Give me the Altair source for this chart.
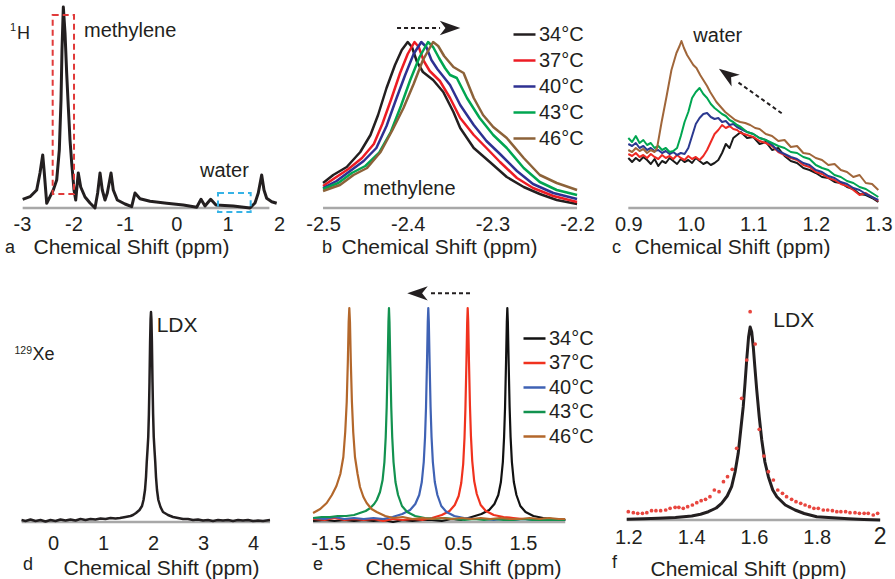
import altair as alt
import pandas as pd

# ---------------------------------------------------------------- data
TEMPS = ["34°C", "37°C", "40°C", "43°C", "46°C"]

# (a) 1H spectrum
A_X = [-2.987, -2.844, -2.714, -2.650, -2.597, -2.566, -2.519, -2.455, -2.391, -2.325, -2.274, -2.241,
       -2.222, -2.196, -2.163, -2.131, -2.099, -2.066, -2.033, -1.988, -1.955, -1.905, -1.858, -1.774,
       -1.677, -1.580, -1.528, -1.482, -1.438, -1.385, -1.340, -1.268, -1.224, -1.146, -0.996, -0.866,
       -0.802, -0.704, -0.510, -0.185, 0.138, 0.399, 0.483, 0.560, 0.671, 0.774, 1.111, 1.436, 1.533,
       1.597, 1.663, 1.708, 1.760, 1.858, 1.955]
A_Y = [8.7, 11.3, 18, 35, 53, 35, 4.7, 11.3, 18, 28, 58, 108, 158, 201, 175, 135, 101, 68, 45, 18, 8,
       35, 21, 11, 5, 0, 15, 35, 18, 8, 15, 35, 18, 8, 4, 1.3, 15, 9.3, 6.7, 4.7, 3, 0.7, 8.7, 2, 8.7,
       3, 2, 0, 5, 15, 33, 18, 9.7, 6.3, 4.7]

# (b) methylene peak vs temperature
B34_X = [-2.500, -2.488, -2.472, -2.456, -2.444, -2.435, -2.425, -2.415, -2.407, -2.400, -2.395, -2.389,
         -2.382, -2.370, -2.358, -2.346, -2.338, -2.322, -2.303, -2.283, -2.263, -2.244, -2.224, -2.200]
B34_Y = [25, 33, 41, 56, 73, 93, 120, 143, 158, 166, 161, 146, 136, 128, 116, 96, 80, 60, 46, 31, 21, 14, 8, 4]
B37_X = [-2.500, -2.486, -2.470, -2.454, -2.440, -2.430, -2.419, -2.409, -2.400, -2.392, -2.387, -2.381,
         -2.374, -2.362, -2.350, -2.338, -2.322, -2.307, -2.291, -2.271, -2.252, -2.228, -2.200]
B37_Y = [22, 30, 39, 50, 64, 84, 110, 135, 154, 166, 161, 147, 137, 127, 110, 90, 73, 60, 46, 30, 20, 12, 6]
B40_X = [-2.500, -2.484, -2.468, -2.452, -2.437, -2.425, -2.414, -2.403, -2.393, -2.384, -2.378, -2.372,
         -2.365, -2.350, -2.338, -2.322, -2.307, -2.291, -2.271, -2.252, -2.228, -2.200]
B40_Y = [20, 27, 37, 47, 60, 82, 108, 133, 154, 166, 161, 148, 139, 123, 103, 83, 67, 54, 37, 24, 15, 9]
B43_X = [-2.500, -2.482, -2.466, -2.450, -2.434, -2.420, -2.408, -2.397, -2.386, -2.376, -2.370, -2.363,
         -2.356, -2.350, -2.342, -2.330, -2.315, -2.299, -2.283, -2.263, -2.244, -2.224, -2.200]
B43_Y = [19, 25, 35, 42, 55, 76, 102, 128, 151, 166, 161, 150, 140, 133, 130, 110, 90, 73, 60, 40, 26, 18, 13]
B46_X = [-2.500, -2.480, -2.464, -2.448, -2.432, -2.418, -2.405, -2.393, -2.382, -2.370, -2.364, -2.357,
         -2.346, -2.334, -2.322, -2.311, -2.299, -2.283, -2.263, -2.244, -2.224, -2.200]
B46_Y = [17, 23, 33, 40, 56, 78, 100, 124, 148, 166, 162, 152, 141, 135, 110, 93, 81, 70, 50, 33, 25, 18]

# (c) water peak vs temperature
C_X = [0.900, 0.906, 0.912, 0.918, 0.924, 0.930, 0.936, 0.942, 0.948, 0.954, 0.960, 0.966, 0.972, 0.978,
       0.984, 0.990, 0.996, 1.002, 1.008, 1.014, 1.020, 1.026, 1.032, 1.038, 1.044, 1.050, 1.056, 1.062,
       1.068, 1.074, 1.080, 1.090, 1.100, 1.110, 1.120, 1.130, 1.140, 1.150, 1.160, 1.170, 1.180, 1.190,
       1.200, 1.210, 1.220, 1.230, 1.240, 1.250, 1.260, 1.270, 1.280, 1.290, 1.300]
C34_Y = [50, 46, 50, 47, 51, 48, 44, 49, 42, 47, 45, 50, 47, 44, 49, 46, 48, 45, 50, 47, 44, 46, 43, 45,
         48, 55, 64, 60, 70, 73, 76, 70, 71, 64, 66, 58, 60, 52, 47, 45, 40, 38, 35, 31, 30, 26, 25, 21,
         19, 14, 13, 10, 6]
C37_Y = [54, 52, 55, 51, 53, 50, 54, 51, 49, 53, 50, 52, 49, 53, 50, 48, 52, 49, 51, 48, 52, 58, 66, 74,
         78, 83, 80, 82, 79, 78, 75, 73, 71, 67, 65, 62, 56, 53, 50, 48, 43, 41, 36, 34, 30, 28, 24, 22,
         18, 13, 15, 11, 7]
C40_Y = [64, 62, 65, 60, 62, 58, 60, 57, 58, 55, 57, 54, 56, 53, 55, 54, 60, 72, 84, 90, 94, 95, 91, 89,
         90, 86, 87, 83, 84, 81, 79, 76, 74, 70, 68, 63, 57, 54, 51, 49, 45, 43, 38, 36, 32, 30, 26, 24,
         20, 18, 14, 11, 8]
C43_Y = [70, 66, 72, 65, 68, 63, 65, 60, 62, 58, 60, 56, 57, 60, 72, 86, 96, 110, 116, 120, 114, 110, 104,
         100, 97, 94, 92, 88, 86, 83, 81, 76, 74, 70, 68, 65, 62, 60, 56, 55, 51, 49, 43, 40, 38, 33, 31,
         27, 25, 21, 19, 15, 11]
C46_X = [0.900, 0.906, 0.912, 0.918, 0.924, 0.930, 0.936, 0.942, 0.946, 0.953, 0.961, 0.969, 0.977, 0.982,
         0.985, 0.989, 0.994, 0.999, 1.004, 1.009, 1.015, 1.020, 1.026, 1.031, 1.036, 1.041, 1.048, 1.055,
         1.063, 1.071, 1.079, 1.087, 1.095, 1.103, 1.110, 1.120, 1.130, 1.140, 1.150, 1.160, 1.170, 1.180,
         1.190, 1.200, 1.210, 1.220, 1.230, 1.240, 1.250, 1.260, 1.270, 1.280, 1.290, 1.300]
C46_Y = [58, 56, 60, 57, 59, 55, 58, 56, 60, 85, 111, 138, 155, 162, 167, 160, 153, 148, 143, 140, 133,
         128, 122, 116, 111, 106, 101, 96, 92, 88, 86, 85, 83, 80, 79, 74, 72, 67, 68, 61, 62, 55, 54, 50,
         48, 43, 44, 38, 36, 31, 33, 25, 24, 18]

# (d) 129Xe LDX spectrum
D_X = [-0.63, -0.55, -0.45, -0.35, -0.25, -0.15, -0.05, 0.05, 0.15, 0.25, 0.35, 0.45, 0.55, 0.65, 0.75,
       0.85, 0.95, 1.05, 1.15, 1.25, 1.34, 1.45, 1.55, 1.60, 1.66, 1.73, 1.78, 1.81, 1.84, 1.86, 1.875,
       1.89, 1.905, 1.918, 1.93, 1.942, 1.952, 1.96, 1.968, 1.978, 1.99, 2.002, 2.015, 2.03, 2.045, 2.06,
       2.08, 2.107, 2.15, 2.20, 2.30, 2.40, 2.50, 2.60, 2.70, 2.80, 2.90, 3.00, 3.10, 3.20, 3.30, 3.40,
       3.50, 3.60, 3.70, 3.80, 3.90, 4.00, 4.10, 4.20, 4.34]
D_Y = [2, 1, 2.5, 1, 2, 0.5, 2, 1, 2.5, 1.5, 2.5, 1.5, 3, 2, 3, 2.5, 3.5, 3, 4, 3.5, 4, 5, 6, 7, 9, 12,
       16, 22, 32, 45, 60, 72, 85, 108, 140, 180, 203, 210, 203, 180, 140, 108, 85, 72, 60, 45, 32, 22,
       15, 10, 7, 5, 4, 3, 3, 2, 2.5, 1.5, 2, 1, 2, 1.5, 2, 1, 2, 1.5, 2, 1, 1.5, 1, 2]

# (e) LDX peak vs temperature
E34_X = [-1.73, -1.55, -1.40, -1.25, -1.10, -0.95, -0.80, -0.65, -0.50, -0.35, -0.20, -0.05, 0.10, 0.25,
         0.40, 0.55, 0.71, 0.86, 0.98, 1.06, 1.12, 1.16, 1.19, 1.209, 1.224, 1.239, 1.251, 1.259, 1.267,
         1.279, 1.294, 1.309, 1.329, 1.359, 1.399, 1.459, 1.539, 1.66, 1.81, 1.95, 2.05, 2.15]
E34_Y = [1, 2, 1, 2, 1, 2, 1, 2, 0, 2, 1, 2, 2, 1, 3, 2, 5, 8, 12, 18, 27, 40, 60, 85, 115, 160, 200,
         214, 200, 160, 115, 85, 60, 40, 27, 16, 10, 6, 4, 3, 3, 2]
E37_X = [-1.73, -1.55, -1.40, -1.25, -1.10, -0.95, -0.80, -0.65, -0.50, -0.35, -0.20, -0.05, 0.10, 0.25,
         0.37, 0.45, 0.51, 0.55, 0.58, 0.60, 0.614, 0.629, 0.641, 0.649, 0.657, 0.669, 0.684, 0.699,
         0.719, 0.749, 0.789, 0.849, 0.929, 1.05, 1.20, 1.35, 1.50, 1.65, 1.80, 1.95, 2.05, 2.15]
E37_Y = [3, 2, 4, 2, 3, 2, 3, 1, 3, 2, 3, 2, 4, 7, 11, 17, 26, 39, 58, 84, 113, 158, 199, 214, 201, 160,
         116, 86, 61, 41, 28, 17, 11, 7, 5, 4, 3, 3, 2, 3, 2, 2]
E40_X = [-1.73, -1.55, -1.40, -1.25, -1.10, -0.95, -0.80, -0.65, -0.507, -0.357, -0.237, -0.157, -0.097,
         -0.057, -0.027, -0.007, 0.008, 0.023, 0.035, 0.043, 0.051, 0.063, 0.078, 0.093, 0.113, 0.143,
         0.183, 0.243, 0.323, 0.443, 0.593, 0.75, 0.90, 1.05, 1.20, 1.35, 1.50, 1.65, 1.80, 1.95, 2.05, 2.15]
E40_Y = [4, 3, 5, 3, 4, 3, 4, 3, 5, 8, 12, 18, 27, 40, 60, 85, 115, 160, 200, 214, 200, 160, 115, 85, 60,
         40, 27, 16, 10, 6, 4, 3, 3, 2, 3, 2, 3, 2, 2, 3, 2, 2]
E43_X = [-1.73, -1.60, -1.47, -1.35, -1.22, -1.10, -1.01, -0.92, -0.85, -0.79, -0.75, -0.70, -0.66, -0.632,
         -0.612, -0.597, -0.582, -0.570, -0.562, -0.554, -0.542, -0.527, -0.512, -0.492, -0.462, -0.422,
         -0.362, -0.282, -0.16, -0.01, 0.15, 0.30, 0.45, 0.60, 0.75, 0.90, 1.05, 1.20, 1.35, 1.50, 1.65,
         1.80, 1.95, 2.15]
E43_Y = [4, 5, 5, 6, 6, 7, 9, 11, 14, 18, 22, 30, 42, 60, 85, 115, 160, 200, 214, 200, 160, 115, 85, 60,
         40, 27, 16, 10, 6, 4, 3, 4, 3, 2, 3, 2, 3, 2, 2, 3, 2, 2, 2, 2]
E46_X = [-1.73, -1.62, -1.52, -1.44, -1.37, -1.31, -1.264, -1.235, -1.212, -1.195, -1.182, -1.172, -1.162,
         -1.149, -1.132, -1.112, -1.085, -1.045, -1.008, -0.955, -0.905, -0.83, -0.751, -0.62, -0.495,
         -0.35, -0.20, -0.05, 0.10, 0.25, 0.40, 0.55, 0.70, 0.85, 1.00, 1.15, 1.30, 1.45, 1.60, 1.75,
         1.90, 2.05, 2.15]
E46_Y = [9, 13, 19, 27, 36, 48, 65, 90, 120, 160, 200, 214, 200, 160, 120, 90, 65, 48, 35, 25, 19, 13,
         10, 6, 4, 5, 3, 4, 3, 4, 3, 4, 3, 4, 3, 4, 3, 3, 4, 3, 4, 3, 3]

# (f) LDX peak: fit (line) and measured (dots)
F_FIT_X = [1.195, 1.25, 1.296, 1.35, 1.402, 1.43, 1.455, 1.48, 1.497, 1.515, 1.529, 1.540, 1.550, 1.558,
           1.566, 1.572, 1.577, 1.583, 1.588, 1.593, 1.598, 1.603, 1.609, 1.617, 1.625, 1.635, 1.646,
           1.660, 1.673, 1.700, 1.731, 1.760, 1.800, 1.850, 1.901, 1.950, 2.002]
F_FIT_Y = [2.7, 3.2, 3.7, 4.6, 6, 7.8, 10.3, 14, 18.7, 26, 35.3, 50, 68.7, 92, 115.3, 140, 162, 185, 195,
           190, 175, 155, 132, 105, 82, 60, 45.3, 32, 25.3, 17, 12, 8.5, 5.3, 4.2, 3.3, 2.6, 2]
F_DOT_X = [1.200, 1.216, 1.230, 1.245, 1.259, 1.274, 1.288, 1.303, 1.319, 1.333, 1.349, 1.361, 1.375,
           1.389, 1.404, 1.418, 1.432, 1.446, 1.460, 1.474, 1.489, 1.503, 1.516, 1.531, 1.545, 1.561,
           1.577, 1.588, 1.604, 1.617, 1.632, 1.646, 1.662, 1.676, 1.691, 1.704, 1.720, 1.734, 1.749,
           1.763, 1.777, 1.791, 1.805, 1.821, 1.835, 1.850, 1.864, 1.877, 1.892, 1.906, 1.922, 1.936,
           1.951, 1.964, 1.980, 1.994]
F_DOT_Y = [10.3, 9.3, 8.7, 8.7, 9.3, 11.3, 11.3, 11.3, 12, 13.7, 14.7, 14.7, 13.7, 15.3, 17, 19.3, 21.3,
           22.7, 25.3, 32, 30.3, 40.3, 45.3, 52.7, 73.7, 123.7, 162, 210.3, 178, 92.7, 66, 50.3, 42, 32,
           28.7, 25.3, 22.7, 20.3, 18.7, 17, 15.3, 13.7, 13.7, 12, 12, 11.3, 10.3, 10.3, 10.3, 9.3, 9.3,
           8.7, 8.7, 8.7, 7, 8.7]

# ---------------------------------------------------------------- style
FONT = "Liberation Sans"
INK = "#231f20"
GRAY = "#a8a8a8"
ARROW = "M1,0L-1,-0.7L-0.45,0L-1,0.7Z"
B_COLORS = ["#231f20", "#ed1c24", "#2e3192", "#00a651", "#8c6239"]
C_COLORS = ["#1a1a1a", "#ee2a24", "#2b3990", "#00a651", "#a0663a"]
E_COLORS = ["#111111", "#f0321e", "#3f62b4", "#12924f", "#b3672b"]
W = [290, 300, 285]
H1, H2 = 208, 232


class Panel:
    def __init__(self, xdom, ydom, axis):
        self.xdom, self.ydom, self.axis = xdom, ydom, axis

    def X(self):
        return alt.X("x:Q", scale=alt.Scale(domain=self.xdom, nice=False, zero=False), axis=self.axis)

    def Y(self):
        return alt.Y("y:Q", scale=alt.Scale(domain=self.ydom, nice=False, zero=False), axis=None)


def xaxis(values, tx, ty, pad, expr="'' + datum.value", fsize=20):
    return alt.Axis(values=values, labelExpr=expr, title="Chemical Shift (ppm)",
                    titleX=tx, titleY=ty, titleAlign="left", titleBaseline="alphabetic",
                    titleFont=FONT, titleFontSize=21, titleFontWeight="normal", titleColor=INK,
                    labelFont=FONT, labelFontSize=fsize, labelColor=INK, labelBaseline="alphabetic",
                    labelPadding=pad, labelFlush=False, labelOverlap=False, labelAlign="center",
                    ticks=False, tickSize=0, domain=False, grid=False)


def line(P, xs, ys, width=2.5, color=INK):
    return alt.Chart(pd.DataFrame({"x": xs, "y": ys})).mark_line(
        color=color, strokeWidth=width, strokeJoin="round").encode(x=P.X(), y=P.Y())


def multiline(P, xs_list, ys_list, colors, width, legend):
    rows = []
    for t, xs, ys in zip(TEMPS, xs_list, ys_list):
        rows += [{"x": a, "y": b, "t": t} for a, b in zip(xs, ys)]
    return alt.Chart(pd.DataFrame(rows)).mark_line(strokeWidth=width, strokeJoin="round").encode(
        x=P.X(), y=P.Y(),
        color=alt.Color("t:N", scale=alt.Scale(domain=TEMPS, range=colors), legend=legend))


def base(P, x0, x1, y=0):
    return alt.Chart(pd.DataFrame({"x": [x0], "x2": [x1], "y": [y]})).mark_rule(
        color=GRAY, strokeWidth=2.5).encode(x=P.X(), x2="x2:Q", y=P.Y())


def label(P, s, x, y, size, align="left", dy=0):
    return alt.Chart(pd.DataFrame({"x": [x], "y": [y], "s": [s]})).mark_text(
        font=FONT, fontSize=size, align=align, baseline="alphabetic", color=INK, dy=dy).encode(
        x=P.X(), y=P.Y(), text="s:N")


def arrow(P, x0, y0, x1, y1, hx, hy, angle):
    shaft = alt.Chart(pd.DataFrame({"x": [x0], "y": [y0], "x2": [x1], "y2": [y1]})).mark_rule(
        color=INK, strokeWidth=2, strokeDash=[4, 3]).encode(x=P.X(), y=P.Y(), x2="x2:Q", y2="y2:Q")
    head = alt.Chart(pd.DataFrame({"x": [hx], "y": [hy]})).mark_point(
        shape=ARROW, filled=True, size=420, angle=angle, color=INK, opacity=1).encode(x=P.X(), y=P.Y())
    return shaft + head


def box(P, x0, x1, y0, y1, color):
    return alt.Chart(pd.DataFrame({"x": [x0], "x2": [x1], "y": [y0], "y2": [y1]})).mark_rect(
        fillOpacity=0, stroke=color, strokeWidth=2, strokeDash=[6, 4]).encode(
        x=P.X(), x2="x2:Q", y=P.Y(), y2="y2:Q")


def legend(x, y, pad):
    return alt.Legend(orient="none", legendX=x, legendY=y, title=None, symbolType="stroke",
                      symbolSize=484, symbolStrokeWidth=2.5, labelFont=FONT, labelFontSize=20,
                      labelColor=INK, labelOffset=2, rowPadding=pad, padding=0, labelLimit=0)


# ---------------------------------------------------------------- panels
Pa = Panel([-3.428, 2.214], [0, H1], xaxis([-3, -2, -1, 0, 1, 2], 33, 45, 22))
pa = alt.layer(
    base(Pa, -2.987, 1.813),
    line(Pa, A_X, A_Y, 3),
    box(Pa, -2.403, -1.988, 14, 193, "#e03a3a"),
    box(Pa, 0.813, 1.449, -4, 15, "#36b3e6"),
    label(Pa, "methylene", -1.794, 171, 20),
    label(Pa, "water", 0.463, 31.3, 20),
    label(Pa, "H", -3.097, 169.5, 18),
    label(Pa, "1", -3.112, 177, 11, "right"),
    label(Pa, "a", -3.331, -45, 18),
).properties(width=W[0], height=H1)

Pb = Panel([-2.5272, -2.1729], [0, H1], xaxis([-2.5, -2.4, -2.3, -2.2], 41, 45, 22))
pb = alt.layer(
    base(Pb, -2.5, -2.2),
    multiline(Pb, [B34_X, B37_X, B40_X, B43_X, B46_X], [B34_Y, B37_Y, B40_Y, B43_Y, B46_Y],
              B_COLORS, 2.5, legend(212, 22, 3)),
    label(Pb, "methylene", -2.4524, 13, 20),
    arrow(Pb, -2.4126, 180, -2.3618, 180, -2.350, 180, 0),
    label(Pb, "b", -2.5012, -45, 18),
).properties(width=W[1], height=H1)

Pc = Panel([0.8707, 1.3267], [0, H1],
           xaxis([0.9, 1.0, 1.1, 1.2, 1.3], 24, 45, 22, "format(datum.value, '.1f')"))
pc = alt.layer(
    base(Pc, 0.9, 1.3),
    multiline(Pc, [C_X, C_X, C_X, C_X, C46_X], [C34_Y, C37_Y, C40_Y, C43_Y, C46_Y],
              C_COLORS, 2, None),
    label(Pc, "water", 1.004, 166.3, 20),
    arrow(Pc, 1.1454, 94.7, 1.0728, 127, 1.0584, 133.3, 215),
    label(Pc, "c", 0.8739, -45, 18),
).properties(width=W[2], height=H1)

Pd = Panel([-1.06, 4.74], [0, H2], xaxis([0, 1, 2, 3, 4], 63, 52, 27))
pd_ = alt.layer(
    base(Pd, -0.627, 4.34),
    line(Pd, D_X, D_Y, 2.5),
    label(Pd, "LDX", 2.073, 190.3, 21),
    label(Pd, "Xe", -0.41, 162, 18),
    label(Pd, "129", -0.42, 168, 10.5, "right"),
    label(Pd, "d", -0.6, -48, 18),
).properties(width=W[0], height=H2)

Pe = Panel([-1.9308, 2.6846], [0, H2], xaxis([-1.5, -0.5, 0.5, 1.5], 65, 52, 27))
pe = alt.layer(
    base(Pe, -1.73, 2.15),
    multiline(Pe, [E34_X, E37_X, E40_X, E43_X, E46_X], [E34_Y, E37_Y, E40_Y, E43_Y, E46_Y],
              E_COLORS, 2.2, legend(222, 36, 1.5)),
    arrow(Pe, 0.6846, 228.7, 0.0384, 228.7, -0.1231, 228.7, 180),
    label(Pe, "e", -1.7308, -48, 18),
).properties(width=W[1], height=H2)

big_two = {"condition": {"test": "datum.value == 2", "value": 23}, "value": 20}
Pf = Panel([1.1417, 2.0493], [0, H2],
           xaxis([1.2, 1.4, 1.6, 1.8, 2], 40, 53, 21, "'' + datum.value", big_two))
pf = alt.layer(
    base(Pf, 1.195, 2.002, 2),
    line(Pf, F_FIT_X, F_FIT_Y, 3),
    alt.Chart(pd.DataFrame({"x": F_DOT_X, "y": F_DOT_Y})).mark_circle(
        color="#e8463f", size=14, opacity=1).encode(x=Pf.X(), y=Pf.Y()),
    label(Pf, "LDX", 1.6618, 195, 21),
    label(Pf, "f", 1.148, -46, 18),
).properties(width=W[2], height=H2)

chart = alt.concat(
    pa, pb, pc, pd_, pe, pf, columns=3, spacing={"row": 82, "column": 10},
    bounds="flush", align="each", padding=0, background="white",
).resolve_scale(color="independent").configure(font=FONT).configure_view(stroke=None, strokeWidth=0)

chart.save("out.html", embed_options={"renderer": "svg", "actions": False})
